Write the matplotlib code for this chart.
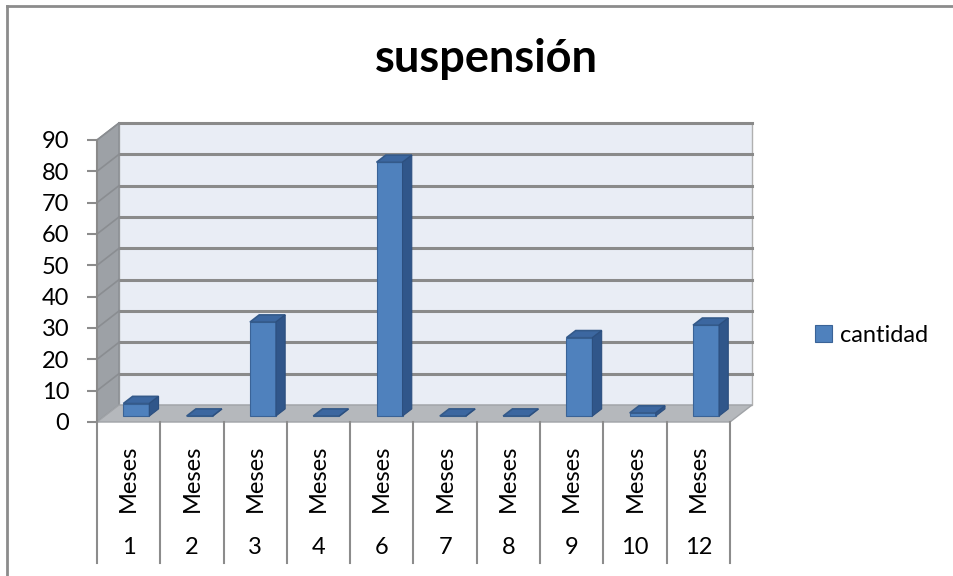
import matplotlib
matplotlib.use('Agg')
import matplotlib.pyplot as plt
from matplotlib.patches import Polygon
from matplotlib.lines import Line2D

plt.rcParams['font.family'] = ['Lato', 'DejaVu Sans']

# datos del grafico
meses = ['1', '2', '3', '4', '6', '7', '8', '9', '10', '12']
cantidad = [4, 0, 30, 0, 81, 0, 0, 25, 1, 29]
yticks = [0, 10, 20, 30, 40, 50, 60, 70, 80, 90]

W, H = 954, 576
fig = plt.figure(figsize=(W / 100, H / 100), dpi=100)

# ejes = plano frontal del grafico 3D
x0, x1, yb, yt = 97, 730, 422, 140
ax = fig.add_axes([x0 / W, 1 - yb / H, (x1 - x0) / W, (yb - yt) / H])
n = len(meses)
ax.set_xlim(0, n)
ax.set_ylim(0, 90)
for s in ax.spines.values():
    s.set_visible(False)
ax.set_xticks([])
ax.set_yticks(yticks)
ax.tick_params(axis='y', length=7, width=1.5, color='#8c8c8c', pad=13, labelsize=17)
ax.patch.set_alpha(0)

px_x = (x1 - x0) / n          # pixeles por categoria
px_y = (yb - yt) / 90         # pixeles por unidad
dx = 22 / px_x                # profundidad en x
dy = 17 / px_y                # profundidad en y

grid_c = '#8a8a8a'
# pared del fondo
ax.add_patch(Polygon([(dx, dy), (n + dx, dy), (n + dx, 90 + dy), (dx, 90 + dy)],
                     closed=True, fc='#e9edf5', ec='#b0b0b0', lw=1, zorder=0, clip_on=False))
# pared lateral
ax.add_patch(Polygon([(0, 0), (dx, dy), (dx, 90 + dy), (0, 90)],
                     closed=True, fc='#9da1a6', ec='#8a8e93', lw=1, zorder=1, clip_on=False))
# piso
ax.add_patch(Polygon([(0, 0), (n, 0), (n + dx, dy), (dx, dy)],
                     closed=True, fc='#b5b8bc', ec='#a0a3a7', lw=1, zorder=1, clip_on=False))
# lineas de cuadricula
for v in yticks[1:]:
    ax.plot([dx, n + dx], [v + dy, v + dy], color=grid_c, lw=2.2, zorder=0.5, clip_on=False)
    ax.plot([0, dx], [v, v + dy], color='#8a8d91', lw=1.2, zorder=1.5, clip_on=False)
ax.plot([0, 0], [0, 90], color=grid_c, lw=1.5, zorder=2, clip_on=False)

# barras
w = 0.41
f0 = 0.35
bd = 0.42
ox, oy = f0 * dx, f0 * dy
centers = [i + 0.5 + ox for i in range(n)]
bars = ax.bar(centers, cantidad, width=w, bottom=oy, color='#4f81bd',
              edgecolor='#3a6397', lw=0.8, zorder=5, label='cantidad')
for c, v in zip(centers, cantidad):
    l, r = c - w / 2, c + w / 2
    top = oy + v
    ax.add_patch(Polygon([(l, top), (r, top), (r + bd * dx, top + bd * dy), (l + bd * dx, top + bd * dy)],
                         closed=True, fc='#3c67a0', ec='#345a8a', lw=1.2, zorder=6))
    ax.add_patch(Polygon([(r, oy), (r + bd * dx, oy + bd * dy), (r + bd * dx, top + bd * dy), (r, top)],
                         closed=True, fc='#30568a', ec='#2c4f7f', lw=0.8, zorder=6))

# tabla de categorias
y_low = -(563 - yb) / px_y
for i in range(n + 1):
    ax.plot([i, i], [0, y_low], color='#8c8c8c', lw=1.5, clip_on=False, zorder=2)
for i, m in enumerate(meses):
    ax.text(i + 0.5, -(478 - yb) / px_y, 'Meses', rotation=90, ha='center', va='center',
            fontsize=17, clip_on=False)
    ax.text(i + 0.5, -(548 - yb) / px_y, m, ha='center', va='center', fontsize=17, clip_on=False)

# titulo
fig.text(486 / W, 1 - 72 / H, 'suspensión', ha='center', va='baseline',
         fontsize=32.5, fontweight='bold')

# leyenda
fig.legend(handles=[bars], labels=['cantidad'], loc='center left',
           bbox_to_anchor=(815 / W, 1 - 335 / H), frameon=False, fontsize=17,
           handlelength=0.7, handleheight=0.7, handletextpad=0.35,
           borderpad=0, borderaxespad=0)

# borde del area del grafico
fig.add_artist(Line2D([7 / W, 7 / W], [0, 1 - 6 / H], color='#8c8c8c', lw=2))
fig.add_artist(Line2D([7 / W, 1], [1 - 6 / H, 1 - 6 / H], color='#8c8c8c', lw=2))

fig.savefig('out.png', dpi=100)
